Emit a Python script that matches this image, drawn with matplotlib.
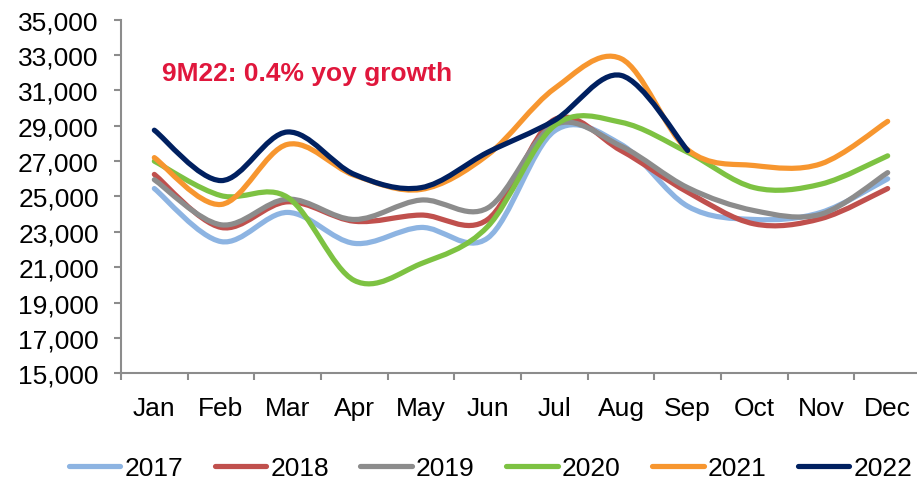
import numpy as np
import matplotlib
matplotlib.use("Agg")
import matplotlib.pyplot as plt
from matplotlib.path import Path
from matplotlib.patches import PathPatch
from matplotlib.lines import Line2D
from matplotlib.ticker import FuncFormatter

plt.rcParams['font.family'] = ['Liberation Sans', 'DejaVu Sans']

# Data
months = ['Jan', 'Feb', 'Mar', 'Apr', 'May', 'Jun', 'Jul', 'Aug', 'Sep', 'Oct', 'Nov', 'Dec']
years = ['2017', '2018', '2019', '2020', '2021', '2022']

v2017 = [25450, 22450, 24100, 22350, 23250, 22650, 28700, 27950, 24450, 23700, 24100, 26000]
v2018 = [26250, 23250, 24700, 23600, 23950, 23700, 29350, 27600, 25250, 23450, 23750, 25450]
v2019 = [25950, 23400, 24850, 23700, 24800, 24350, 29050, 27850, 25500, 24200, 24000, 26350]
v2020 = [27000, 25050, 24950, 20250, 21200, 23300, 29000, 29200, 27500, 25500, 25700, 27300]
v2021 = [27200, 24550, 27950, 26200, 25400, 27350, 31100, 32800, 27650, 26750, 26850, 29250]
v2022 = [28750, 25900, 28650, 26250, 25500, 27500, 29300, 31850, 27600]

series = [v2017, v2018, v2019, v2020, v2021, v2022]
colors = ['#8db4e2', '#c0504d', '#8c8c8c', '#7dc242', '#f7962f', '#002060']

note = '9M22: 0.4% yoy growth'


def smooth_path(y):
    # Excel-style smoothed line: cubic bezier segments through the points
    x = np.arange(len(y), dtype=float)
    y = np.asarray(y, dtype=float)
    pts = np.column_stack([x, y])
    n = len(pts)
    verts = [pts[0]]
    codes = [Path.MOVETO]
    for i in range(n - 1):
        p0 = pts[i - 1] if i > 0 else pts[i]
        p1 = pts[i]
        p2 = pts[i + 1]
        p3 = pts[i + 2] if i + 2 < n else pts[i + 1]
        c1 = p1 + (p2 - p0) / 6.0
        c2 = p2 - (p3 - p1) / 6.0
        verts += [c1, c2, p2]
        codes += [Path.CURVE4] * 3
    return Path(verts, codes)


fig = plt.figure(figsize=(9.17, 4.81), dpi=100)
ax = fig.add_axes([121 / 917, 106.7 / 481, 800 / 917, 353.6 / 481])

lw = 3.75
for vals, col in zip(series, colors):
    patch = PathPatch(smooth_path(vals), facecolor='none', edgecolor=col,
                      lw=lw, capstyle='round', joinstyle='round')
    ax.add_patch(patch)

ax.set_xlim(-0.5, 11.5)
ax.set_ylim(15000, 35000)
ax.set_yticks(range(15000, 35001, 2000))
ax.yaxis.set_major_formatter(FuncFormatter(lambda v, p: f'{v:,.0f}'))

ax.set_xticks(np.arange(-0.5, 12, 1))
ax.set_xticklabels([])
ax.set_xticks(range(12), minor=True)
ax.set_xticklabels(months, minor=True)

axis_col = '#8c8c8c'
for s in ['top', 'right']:
    ax.spines[s].set_visible(False)
for s in ['left', 'bottom']:
    ax.spines[s].set_color(axis_col)
    ax.spines[s].set_linewidth(1.5)

ax.tick_params(axis='y', which='major', length=5, width=1.5, color=axis_col,
               pad=11, labelsize=19, labelcolor='black')
ax.tick_params(axis='x', which='major', length=5, width=1.5, color=axis_col)
ax.tick_params(axis='x', which='minor', length=0, pad=16, labelsize=19,
               labelcolor='black')

ax.text(0.115, 31590, note, color='#e0173c', fontsize=19, fontweight='bold',
        va='baseline', ha='left')

handles = [Line2D([0], [0], color=c, lw=lw, solid_capstyle='round') for c in colors]
fig.legend(handles, years, loc='center', bbox_to_anchor=(0.535, 0.024), ncol=6,
           frameon=False, fontsize=19, handlelength=1.95, handletextpad=0.15,
           columnspacing=1.2, borderpad=0, borderaxespad=0)

fig.savefig('out.png', dpi=100)
